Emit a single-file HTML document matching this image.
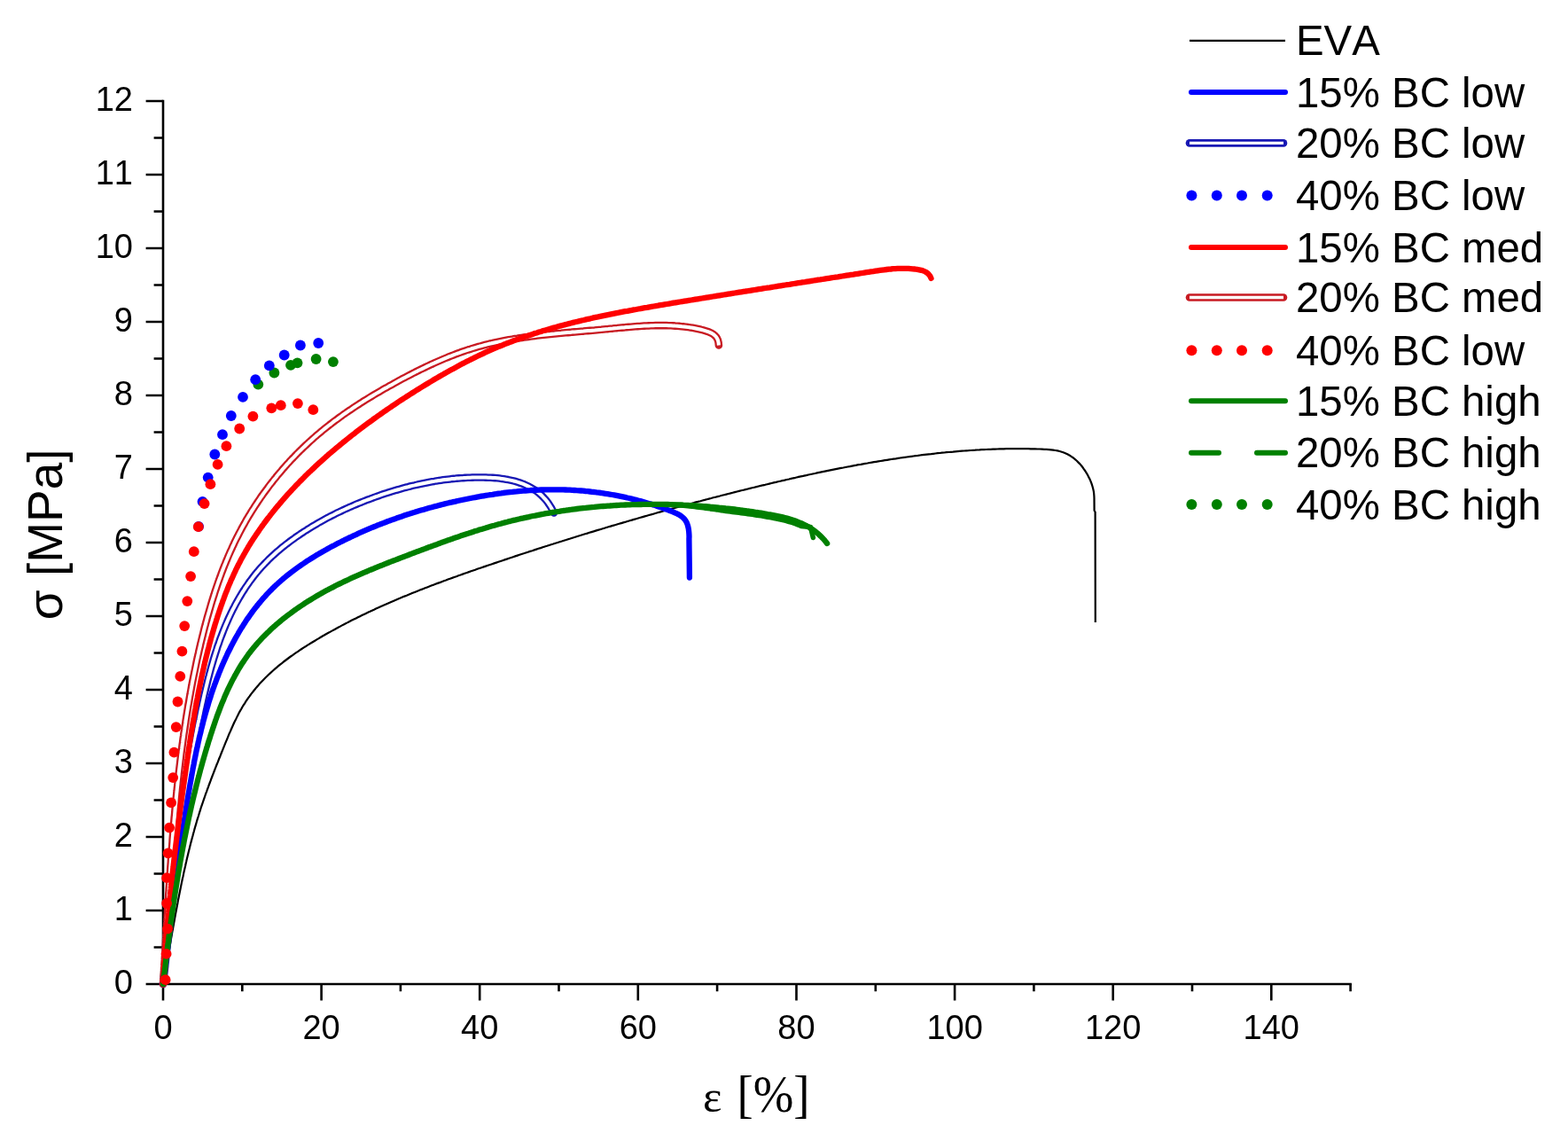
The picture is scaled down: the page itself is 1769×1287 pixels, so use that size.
<!DOCTYPE html><html><head><meta charset="utf-8"><title>Stress-strain</title><style>html,body{margin:0;padding:0;background:#fff;}svg{display:block;}text{font-family:"Liberation Sans",Arial,sans-serif;fill:#000;font-kerning:none;}</style></head><body>
<svg width="1769" height="1287" viewBox="0 0 1769 1287">
<rect width="1769" height="1287" fill="#fff"/>
<path d="M164.6,1110.0H184.0M164.6,1027.0H184.0M164.6,944.0H184.0M164.6,861.0H184.0M164.6,778.0H184.0M164.6,695.0H184.0M164.6,612.0H184.0M164.6,529.0H184.0M164.6,446.0H184.0M164.6,363.0H184.0M164.6,280.0H184.0M164.6,197.0H184.0M164.6,114.0H184.0M173.6,1068.5H184.0M173.6,985.5H184.0M173.6,902.5H184.0M173.6,819.5H184.0M173.6,736.5H184.0M173.6,653.5H184.0M173.6,570.5H184.0M173.6,487.5H184.0M173.6,404.5H184.0M173.6,321.5H184.0M173.6,238.5H184.0M173.6,155.5H184.0M184.0,1110.0V1128.6M362.6,1110.0V1128.6M541.2,1110.0V1128.6M719.8,1110.0V1128.6M898.5,1110.0V1128.6M1077.1,1110.0V1128.6M1255.7,1110.0V1128.6M1434.3,1110.0V1128.6M273.3,1110.0V1118.2M451.9,1110.0V1118.2M630.5,1110.0V1118.2M809.1,1110.0V1118.2M987.8,1110.0V1118.2M1166.4,1110.0V1118.2M1345.0,1110.0V1118.2M1523.6,1110.0V1118.2" fill="none" stroke="#000" stroke-width="2.6" stroke-linecap="butt"/>
<path d="M184.0,112.7V1110.0H1524.9" fill="none" stroke="#000" stroke-width="2.6" stroke-linecap="butt" stroke-linejoin="miter"/>
<path d="M184.0,1110.0L184.4,1107.6L184.9,1105.1L185.3,1102.7L185.8,1100.2L186.2,1097.8L186.6,1095.3L187.1,1092.9L187.5,1090.4L187.9,1088.0L188.4,1085.5L188.8,1083.1L189.2,1080.6L189.7,1078.1L190.1,1075.7L190.5,1073.2L191.0,1070.7L191.4,1068.3L191.8,1065.8L192.3,1063.3L192.7,1060.9L193.1,1058.4L193.6,1055.9L194.0,1053.4L194.4,1050.9L194.9,1048.5L195.3,1046.0L195.8,1043.5L196.2,1041.0L196.7,1038.5L197.1,1036.1L197.6,1033.6L198.0,1031.1L198.5,1028.6L199.0,1026.1L199.4,1023.7L199.9,1021.2L200.4,1018.7L200.8,1016.2L201.3,1013.7L201.8,1011.3L202.3,1008.8L202.8,1006.3L203.3,1003.8L203.8,1001.4L204.3,998.9L204.8,996.4L205.3,994.0L205.8,991.5L206.4,989.0L206.9,986.6L207.4,984.1L208.0,981.6L208.5,979.2L209.1,976.7L209.6,974.3L210.2,971.8L210.7,969.4L211.3,966.9L211.9,964.5L212.5,962.0L213.1,959.6L213.7,957.2L214.3,954.7L214.9,952.3L215.5,949.9L216.2,947.4L216.8,945.0L217.5,942.6L218.1,940.2L218.8,937.8L219.4,935.4L220.1,933.0L220.8,930.6L221.5,928.2L222.2,925.8L222.9,923.4L223.7,921.0L224.4,918.7L225.1,916.3L225.9,913.9L226.6,911.5L227.4,909.2L228.2,906.8L229.0,904.5L229.8,902.1L230.6,899.8L231.4,897.5L232.2,895.1L233.1,892.8L233.9,890.5L234.8,888.1L235.6,885.8L236.5,883.5L237.4,881.2L238.2,878.8L239.1,876.5L240.0,874.2L240.9,871.9L241.8,869.5L242.7,867.2L243.6,864.9L244.5,862.5L245.5,860.2L246.4,857.9L247.3,855.5L248.3,853.2L249.2,850.9L250.1,848.5L251.1,846.1L252.0,843.8L253.0,841.4L253.9,839.1L254.9,836.7L255.9,834.3L256.9,831.9L257.8,829.6L258.8,827.2L259.9,824.9L260.9,822.5L261.9,820.2L263.0,817.8L264.0,815.5L265.1,813.2L266.3,810.9L267.4,808.6L268.5,806.4L269.7,804.1L270.9,801.9L272.2,799.7L273.4,797.5L274.7,795.4L276.1,793.3L277.4,791.2L278.8,789.1L280.2,787.1L281.7,785.1L283.1,783.1L284.7,781.1L286.2,779.2L287.8,777.2L289.3,775.4L291.0,773.5L292.6,771.6L294.3,769.8L296.0,768.0L297.7,766.2L299.4,764.5L301.2,762.8L303.0,761.0L304.8,759.4L306.6,757.7L308.5,756.0L310.3,754.4L312.2,752.8L314.1,751.2L316.0,749.6L318.0,748.1L319.9,746.5L321.9,745.0L323.9,743.5L325.9,742.0L327.9,740.5L330.0,739.1L332.0,737.6L334.1,736.2L336.2,734.8L338.2,733.4L340.3,732.0L342.4,730.6L344.6,729.3L346.7,727.9L348.8,726.6L351.0,725.3L353.1,724.0L355.3,722.7L357.4,721.4L359.6,720.1L361.8,718.8L363.9,717.5L366.1,716.3L368.3,715.0L370.5,713.8L372.7,712.6L374.9,711.4L377.1,710.2L379.3,709.0L381.5,707.8L383.7,706.6L385.9,705.4L388.2,704.2L390.4,703.1L392.6,701.9L394.8,700.8L397.1,699.6L399.3,698.5L401.6,697.4L403.8,696.3L406.1,695.2L408.3,694.1L410.6,693.0L412.8,691.9L415.1,690.8L417.4,689.8L419.6,688.7L421.9,687.7L424.2,686.6L426.5,685.6L428.7,684.5L431.0,683.5L433.3,682.5L435.6,681.5L437.9,680.5L440.2,679.5L442.5,678.5L444.8,677.5L447.1,676.5L449.4,675.5L451.7,674.6L454.0,673.6L456.3,672.6L458.7,671.7L461.0,670.7L463.3,669.8L465.6,668.8L467.9,667.9L470.3,667.0L472.6,666.1L474.9,665.1L477.3,664.2L479.6,663.3L481.9,662.4L484.3,661.5L486.6,660.6L489.0,659.7L491.3,658.8L493.7,657.9L496.0,657.1L498.4,656.2L500.7,655.3L503.1,654.5L505.4,653.6L507.8,652.7L510.1,651.9L512.5,651.0L514.9,650.2L517.2,649.3L519.6,648.5L522.0,647.6L524.3,646.8L526.7,646.0L529.1,645.1L531.4,644.3L533.8,643.5L536.2,642.7L538.5,641.8L540.9,641.0L543.3,640.2L545.7,639.4L548.0,638.6L550.4,637.8L552.8,637.0L555.2,636.2L557.5,635.4L559.9,634.6L562.3,633.8L564.7,633.0L567.0,632.2L569.4,631.4L571.8,630.6L574.2,629.8L576.6,629.0L578.9,628.2L581.3,627.4L583.7,626.6L586.1,625.8L588.5,625.0L590.8,624.3L593.2,623.5L595.6,622.7L598.0,621.9L600.4,621.2L602.8,620.4L605.1,619.6L607.5,618.8L609.9,618.1L612.3,617.3L614.7,616.5L617.1,615.8L619.5,615.0L621.8,614.2L624.2,613.5L626.6,612.7L629.0,612.0L631.4,611.2L633.8,610.5L636.2,609.7L638.6,609.0L641.0,608.2L643.4,607.5L645.8,606.7L648.1,606.0L650.5,605.2L652.9,604.5L655.3,603.8L657.7,603.0L660.1,602.3L662.5,601.6L664.9,600.8L667.3,600.1L669.7,599.4L672.1,598.6L674.5,597.9L676.9,597.2L679.3,596.5L681.7,595.8L684.1,595.0L686.5,594.3L688.9,593.6L691.3,592.9L693.7,592.2L696.1,591.5L698.5,590.8L700.9,590.1L703.3,589.4L705.7,588.7L708.1,588.0L710.5,587.3L712.9,586.6L715.3,585.9L717.7,585.2L720.1,584.5L722.6,583.8L725.0,583.1L727.4,582.4L729.8,581.7L732.2,581.0L734.6,580.4L737.0,579.7L739.4,579.0L741.8,578.3L744.2,577.6L746.7,577.0L749.1,576.3L751.5,575.6L753.9,575.0L756.3,574.3L758.7,573.6L761.2,573.0L763.6,572.3L766.0,571.7L768.4,571.0L770.8,570.3L773.2,569.7L775.7,569.0L778.1,568.4L780.5,567.7L782.9,567.1L785.3,566.4L787.8,565.8L790.2,565.2L792.6,564.5L795.0,563.9L797.5,563.2L799.9,562.6L802.3,562.0L804.7,561.3L807.2,560.7L809.6,560.1L812.0,559.5L814.5,558.8L816.9,558.2L819.3,557.6L821.7,557.0L824.2,556.4L826.6,555.7L829.0,555.1L831.5,554.5L833.9,553.9L836.3,553.3L838.8,552.7L841.2,552.1L843.7,551.5L846.1,550.9L848.5,550.3L851.0,549.7L853.4,549.1L855.8,548.5L858.3,547.9L860.7,547.3L863.2,546.8L865.6,546.2L868.0,545.6L870.5,545.0L872.9,544.4L875.4,543.9L877.8,543.3L880.3,542.7L882.7,542.1L885.2,541.6L887.6,541.0L890.1,540.5L892.5,539.9L895.0,539.3L897.4,538.8L899.9,538.2L902.3,537.7L904.8,537.2L907.2,536.6L909.7,536.1L912.1,535.5L914.6,535.0L917.0,534.5L919.5,534.0L921.9,533.4L924.4,532.9L926.8,532.4L929.3,531.9L931.8,531.4L934.2,530.9L936.7,530.4L939.1,529.9L941.6,529.4L944.1,528.9L946.5,528.4L949.0,527.9L951.4,527.5L953.9,527.0L956.4,526.5L958.8,526.1L961.3,525.6L963.8,525.1L966.2,524.7L968.7,524.2L971.2,523.8L973.6,523.3L976.1,522.9L978.6,522.5L981.0,522.0L983.5,521.6L986.0,521.2L988.4,520.8L990.9,520.4L993.4,520.0L995.9,519.6L998.3,519.2L1000.8,518.8L1003.3,518.4L1005.8,518.0L1008.2,517.6L1010.7,517.3L1013.2,516.9L1015.7,516.5L1018.1,516.2L1020.6,515.8L1023.1,515.5L1025.6,515.2L1028.0,514.8L1030.5,514.5L1033.0,514.2L1035.5,513.9L1038.0,513.5L1040.4,513.2L1042.9,512.9L1045.4,512.6L1047.9,512.3L1050.4,512.1L1052.9,511.8L1055.3,511.5L1057.8,511.2L1060.3,511.0L1062.8,510.7L1065.3,510.5L1067.8,510.2L1070.3,510.0L1072.7,509.8L1075.2,509.6L1077.7,509.3L1080.2,509.1L1082.7,508.9L1085.2,508.7L1087.7,508.5L1090.2,508.3L1092.7,508.2L1095.2,508.0L1097.7,507.8L1100.1,507.7L1102.6,507.5L1105.1,507.4L1107.6,507.2L1110.1,507.1L1112.6,507.0L1115.1,506.9L1117.6,506.8L1120.1,506.7L1122.6,506.6L1125.1,506.5L1127.6,506.4L1130.1,506.3L1132.6,506.3L1135.1,506.2L1137.6,506.2L1140.2,506.2L1142.7,506.1L1145.2,506.1L1147.7,506.1L1150.2,506.1L1152.7,506.1L1155.3,506.1L1157.8,506.2L1160.3,506.2L1162.8,506.3L1165.4,506.3L1167.9,506.4L1170.4,506.5L1173.0,506.5L1175.5,506.6L1178.1,506.8L1180.6,506.9L1183.2,507.1L1185.7,507.3L1188.2,507.6L1190.6,508.0L1193.1,508.4L1195.5,509.0L1197.9,509.7L1200.2,510.5L1202.5,511.4L1204.7,512.5L1206.8,513.7L1208.9,515.1L1211.0,516.5L1212.9,518.1L1214.8,519.8L1216.6,521.6L1218.4,523.4L1220.0,525.3L1221.6,527.3L1223.0,529.4L1224.5,531.5L1225.8,533.6L1227.1,535.8L1228.2,538.1L1229.4,540.3L1230.4,542.6L1231.3,544.9L1232.1,547.3L1232.8,549.7L1233.4,552.1L1233.9,554.5L1234.2,557.0L1234.4,559.5L1234.5,562.0L1234.6,576.0L1235.6,577.5L1235.8,702.0" fill="none" stroke="#000" stroke-width="2.2" stroke-linecap="butt" stroke-linejoin="round"/>
<path d="M184.0,1110.0L184.3,1107.5L184.5,1105.0L184.8,1102.4L185.1,1099.9L185.3,1097.4L185.6,1094.9L185.9,1092.4L186.2,1089.9L186.4,1087.4L186.7,1084.9L187.0,1082.3L187.2,1079.8L187.5,1077.3L187.8,1074.8L188.0,1072.3L188.3,1069.8L188.6,1067.3L188.8,1064.8L189.1,1062.3L189.4,1059.8L189.6,1057.3L189.9,1054.8L190.2,1052.3L190.5,1049.8L190.7,1047.3L191.0,1044.8L191.3,1042.3L191.5,1039.8L191.8,1037.3L192.1,1034.8L192.3,1032.3L192.6,1029.8L192.9,1027.3L193.2,1024.8L193.4,1022.3L193.7,1019.9L194.0,1017.4L194.3,1014.9L194.5,1012.4L194.8,1009.9L195.1,1007.4L195.4,1004.9L195.7,1002.4L196.0,999.9L196.2,997.5L196.5,995.0L196.8,992.5L197.1,990.0L197.4,987.5L197.7,985.0L198.0,982.5L198.3,980.1L198.6,977.6L198.9,975.1L199.2,972.6L199.5,970.1L199.8,967.7L200.1,965.2L200.4,962.7L200.7,960.2L201.0,957.7L201.3,955.2L201.6,952.8L202.0,950.3L202.3,947.8L202.6,945.3L202.9,942.9L203.3,940.4L203.6,937.9L203.9,935.4L204.2,932.9L204.6,930.5L204.9,928.0L205.3,925.5L205.6,923.0L206.0,920.6L206.3,918.1L206.7,915.6L207.0,913.1L207.4,910.7L207.7,908.2L208.1,905.7L208.5,903.2L208.8,900.8L209.2,898.3L209.6,895.8L209.9,893.3L210.3,890.8L210.7,888.4L211.1,885.9L211.5,883.4L211.9,880.9L212.3,878.5L212.7,876.0L213.1,873.5L213.5,871.0L213.9,868.6L214.3,866.1L214.7,863.6L215.2,861.1L215.6,858.7L216.0,856.2L216.4,853.7L216.9,851.2L217.3,848.8L217.8,846.3L218.2,843.8L218.7,841.3L219.1,838.9L219.6,836.4L220.1,833.9L220.5,831.4L221.0,829.0L221.5,826.5L222.0,824.0L222.5,821.5L222.9,819.0L223.4,816.6L223.9,814.1L224.5,811.6L225.0,809.1L225.5,806.7L226.0,804.2L226.5,801.7L227.0,799.2L227.6,796.7L228.1,794.3L228.7,791.8L229.2,789.3L229.8,786.8L230.3,784.3L230.9,781.9L231.5,779.4L232.1,776.9L232.7,774.4L233.3,772.0L233.9,769.5L234.5,767.0L235.1,764.6L235.8,762.1L236.4,759.7L237.1,757.2L237.7,754.8L238.4,752.3L239.1,749.9L239.8,747.5L240.5,745.0L241.2,742.6L242.0,740.2L242.7,737.8L243.5,735.4L244.3,733.0L245.0,730.6L245.8,728.2L246.7,725.9L247.5,723.5L248.3,721.1L249.2,718.8L250.1,716.4L251.0,714.1L251.9,711.8L252.8,709.5L253.7,707.2L254.7,704.9L255.7,702.6L256.7,700.3L257.7,698.0L258.7,695.8L259.8,693.5L260.8,691.3L261.9,689.1L263.0,686.9L264.2,684.7L265.3,682.5L266.5,680.3L267.7,678.2L268.9,676.0L270.1,673.9L271.4,671.8L272.6,669.7L273.9,667.6L275.3,665.5L276.6,663.4L278.0,661.4L279.4,659.4L280.8,657.3L282.2,655.3L283.7,653.4L285.2,651.4L286.7,649.4L288.2,647.5L289.8,645.6L291.4,643.7L293.0,641.8L294.7,639.9L296.4,638.1L298.1,636.3L299.8,634.5L301.6,632.7L303.3,630.9L305.2,629.1L307.0,627.4L308.9,625.7L310.8,624.0L312.7,622.3L314.6,620.7L316.6,619.0L318.5,617.4L320.5,615.8L322.6,614.2L324.6,612.7L326.6,611.1L328.7,609.6L330.8,608.1L332.8,606.6L334.9,605.1L337.1,603.7L339.2,602.2L341.3,600.8L343.4,599.4L345.6,598.1L347.7,596.7L349.9,595.4L352.0,594.0L354.2,592.7L356.4,591.5L358.5,590.2L360.7,588.9L362.9,587.7L365.1,586.5L367.3,585.3L369.5,584.1L371.7,582.9L373.9,581.8L376.2,580.7L378.4,579.5L380.6,578.4L382.9,577.4L385.1,576.3L387.4,575.2L389.6,574.2L391.9,573.2L394.2,572.1L396.5,571.2L398.7,570.2L401.0,569.2L403.3,568.2L405.6,567.3L408.0,566.4L410.3,565.4L412.6,564.5L414.9,563.6L417.3,562.8L419.6,561.9L422.0,561.0L424.3,560.2L426.7,559.4L429.0,558.5L431.4,557.7L433.8,556.9L436.2,556.2L438.6,555.4L441.0,554.6L443.4,553.9L445.8,553.2L448.2,552.5L450.6,551.8L453.0,551.1L455.4,550.4L457.9,549.8L460.3,549.2L462.8,548.5L465.2,547.9L467.7,547.4L470.1,546.8L472.6,546.2L475.0,545.7L477.5,545.2L480.0,544.7L482.5,544.2L484.9,543.7L487.4,543.3L489.9,542.9L492.4,542.4L494.9,542.1L497.4,541.7L499.9,541.3L502.4,541.0L505.0,540.7L507.5,540.4L510.0,540.1L512.5,539.9L515.1,539.6L517.6,539.4L520.1,539.2L522.7,539.1L525.2,538.9L527.7,538.8L530.3,538.7L532.8,538.6L535.4,538.5L538.0,538.5L540.5,538.5L543.1,538.5L545.6,538.5L548.2,538.6L550.8,538.7L553.3,538.8L555.8,538.9L558.4,539.1L560.9,539.3L563.4,539.6L565.9,539.9L568.4,540.3L570.9,540.7L573.3,541.1L575.7,541.6L578.1,542.1L580.5,542.7L582.8,543.4L585.2,544.1L587.4,544.9L589.7,545.7L591.9,546.6L594.1,547.6L596.2,548.6L598.3,549.7L600.4,550.9L602.4,552.1L604.4,553.4L606.3,554.8L608.1,556.3L610.0,557.9L611.7,559.5L613.4,561.3L615.1,563.1L616.7,565.0L618.2,567.0L619.6,569.1L621.0,571.3L622.4,573.6L623.6,576.0L624.8,578.5" fill="none" stroke="#1818b4" stroke-width="8.6" stroke-linecap="round" stroke-linejoin="round"/>
<path d="M184.0,1110.0L184.3,1107.5L184.5,1105.0L184.8,1102.4L185.1,1099.9L185.3,1097.4L185.6,1094.9L185.9,1092.4L186.2,1089.9L186.4,1087.4L186.7,1084.9L187.0,1082.3L187.2,1079.8L187.5,1077.3L187.8,1074.8L188.0,1072.3L188.3,1069.8L188.6,1067.3L188.8,1064.8L189.1,1062.3L189.4,1059.8L189.6,1057.3L189.9,1054.8L190.2,1052.3L190.5,1049.8L190.7,1047.3L191.0,1044.8L191.3,1042.3L191.5,1039.8L191.8,1037.3L192.1,1034.8L192.3,1032.3L192.6,1029.8L192.9,1027.3L193.2,1024.8L193.4,1022.3L193.7,1019.9L194.0,1017.4L194.3,1014.9L194.5,1012.4L194.8,1009.9L195.1,1007.4L195.4,1004.9L195.7,1002.4L196.0,999.9L196.2,997.5L196.5,995.0L196.8,992.5L197.1,990.0L197.4,987.5L197.7,985.0L198.0,982.5L198.3,980.1L198.6,977.6L198.9,975.1L199.2,972.6L199.5,970.1L199.8,967.7L200.1,965.2L200.4,962.7L200.7,960.2L201.0,957.7L201.3,955.2L201.6,952.8L202.0,950.3L202.3,947.8L202.6,945.3L202.9,942.9L203.3,940.4L203.6,937.9L203.9,935.4L204.2,932.9L204.6,930.5L204.9,928.0L205.3,925.5L205.6,923.0L206.0,920.6L206.3,918.1L206.7,915.6L207.0,913.1L207.4,910.7L207.7,908.2L208.1,905.7L208.5,903.2L208.8,900.8L209.2,898.3L209.6,895.8L209.9,893.3L210.3,890.8L210.7,888.4L211.1,885.9L211.5,883.4L211.9,880.9L212.3,878.5L212.7,876.0L213.1,873.5L213.5,871.0L213.9,868.6L214.3,866.1L214.7,863.6L215.2,861.1L215.6,858.7L216.0,856.2L216.4,853.7L216.9,851.2L217.3,848.8L217.8,846.3L218.2,843.8L218.7,841.3L219.1,838.9L219.6,836.4L220.1,833.9L220.5,831.4L221.0,829.0L221.5,826.5L222.0,824.0L222.5,821.5L222.9,819.0L223.4,816.6L223.9,814.1L224.5,811.6L225.0,809.1L225.5,806.7L226.0,804.2L226.5,801.7L227.0,799.2L227.6,796.7L228.1,794.3L228.7,791.8L229.2,789.3L229.8,786.8L230.3,784.3L230.9,781.9L231.5,779.4L232.1,776.9L232.7,774.4L233.3,772.0L233.9,769.5L234.5,767.0L235.1,764.6L235.8,762.1L236.4,759.7L237.1,757.2L237.7,754.8L238.4,752.3L239.1,749.9L239.8,747.5L240.5,745.0L241.2,742.6L242.0,740.2L242.7,737.8L243.5,735.4L244.3,733.0L245.0,730.6L245.8,728.2L246.7,725.9L247.5,723.5L248.3,721.1L249.2,718.8L250.1,716.4L251.0,714.1L251.9,711.8L252.8,709.5L253.7,707.2L254.7,704.9L255.7,702.6L256.7,700.3L257.7,698.0L258.7,695.8L259.8,693.5L260.8,691.3L261.9,689.1L263.0,686.9L264.2,684.7L265.3,682.5L266.5,680.3L267.7,678.2L268.9,676.0L270.1,673.9L271.4,671.8L272.6,669.7L273.9,667.6L275.3,665.5L276.6,663.4L278.0,661.4L279.4,659.4L280.8,657.3L282.2,655.3L283.7,653.4L285.2,651.4L286.7,649.4L288.2,647.5L289.8,645.6L291.4,643.7L293.0,641.8L294.7,639.9L296.4,638.1L298.1,636.3L299.8,634.5L301.6,632.7L303.3,630.9L305.2,629.1L307.0,627.4L308.9,625.7L310.8,624.0L312.7,622.3L314.6,620.7L316.6,619.0L318.5,617.4L320.5,615.8L322.6,614.2L324.6,612.7L326.6,611.1L328.7,609.6L330.8,608.1L332.8,606.6L334.9,605.1L337.1,603.7L339.2,602.2L341.3,600.8L343.4,599.4L345.6,598.1L347.7,596.7L349.9,595.4L352.0,594.0L354.2,592.7L356.4,591.5L358.5,590.2L360.7,588.9L362.9,587.7L365.1,586.5L367.3,585.3L369.5,584.1L371.7,582.9L373.9,581.8L376.2,580.7L378.4,579.5L380.6,578.4L382.9,577.4L385.1,576.3L387.4,575.2L389.6,574.2L391.9,573.2L394.2,572.1L396.5,571.2L398.7,570.2L401.0,569.2L403.3,568.2L405.6,567.3L408.0,566.4L410.3,565.4L412.6,564.5L414.9,563.6L417.3,562.8L419.6,561.9L422.0,561.0L424.3,560.2L426.7,559.4L429.0,558.5L431.4,557.7L433.8,556.9L436.2,556.2L438.6,555.4L441.0,554.6L443.4,553.9L445.8,553.2L448.2,552.5L450.6,551.8L453.0,551.1L455.4,550.4L457.9,549.8L460.3,549.2L462.8,548.5L465.2,547.9L467.7,547.4L470.1,546.8L472.6,546.2L475.0,545.7L477.5,545.2L480.0,544.7L482.5,544.2L484.9,543.7L487.4,543.3L489.9,542.9L492.4,542.4L494.9,542.1L497.4,541.7L499.9,541.3L502.4,541.0L505.0,540.7L507.5,540.4L510.0,540.1L512.5,539.9L515.1,539.6L517.6,539.4L520.1,539.2L522.7,539.1L525.2,538.9L527.7,538.8L530.3,538.7L532.8,538.6L535.4,538.5L538.0,538.5L540.5,538.5L543.1,538.5L545.6,538.5L548.2,538.6L550.8,538.7L553.3,538.8L555.8,538.9L558.4,539.1L560.9,539.3L563.4,539.6L565.9,539.9L568.4,540.3L570.9,540.7L573.3,541.1L575.7,541.6L578.1,542.1L580.5,542.7L582.8,543.4L585.2,544.1L587.4,544.9L589.7,545.7L591.9,546.6L594.1,547.6L596.2,548.6L598.3,549.7L600.4,550.9L602.4,552.1L604.4,553.4L606.3,554.8L608.1,556.3L610.0,557.9L611.7,559.5L613.4,561.3L615.1,563.1L616.7,565.0L618.2,567.0L619.6,569.1L621.0,571.3L622.4,573.6L623.6,576.0L624.8,578.5" fill="none" stroke="#fff" stroke-width="4.0" stroke-linecap="butt" stroke-linejoin="round"/>
<path d="M184.0,1110.0L184.2,1107.5L184.3,1105.0L184.5,1102.5L184.6,1100.0L184.8,1097.5L185.0,1095.0L185.1,1092.5L185.3,1090.0L185.4,1087.5L185.6,1085.0L185.8,1082.5L185.9,1080.0L186.1,1077.5L186.2,1075.0L186.4,1072.5L186.5,1070.0L186.7,1067.5L186.8,1065.0L187.0,1062.5L187.1,1060.0L187.3,1057.5L187.4,1055.0L187.6,1052.5L187.7,1050.0L187.9,1047.5L188.1,1045.0L188.2,1042.5L188.4,1040.0L188.5,1037.5L188.7,1035.0L188.8,1032.4L189.0,1029.9L189.1,1027.4L189.3,1024.9L189.4,1022.4L189.6,1019.9L189.8,1017.4L189.9,1014.9L190.1,1012.4L190.2,1009.9L190.4,1007.4L190.6,1004.9L190.7,1002.4L190.9,999.9L191.1,997.4L191.2,994.9L191.4,992.4L191.6,989.9L191.7,987.3L191.9,984.8L192.1,982.3L192.2,979.8L192.4,977.3L192.6,974.8L192.8,972.3L192.9,969.8L193.1,967.3L193.3,964.8L193.5,962.3L193.7,959.8L193.9,957.3L194.1,954.8L194.3,952.3L194.5,949.8L194.6,947.3L194.8,944.8L195.0,942.3L195.3,939.8L195.5,937.3L195.7,934.8L195.9,932.3L196.1,929.8L196.3,927.3L196.5,924.8L196.7,922.3L197.0,919.8L197.2,917.3L197.4,914.8L197.6,912.3L197.9,909.8L198.1,907.3L198.4,904.8L198.6,902.3L198.8,899.8L199.1,897.3L199.3,894.8L199.6,892.3L199.8,889.8L200.1,887.3L200.4,884.8L200.6,882.3L200.9,879.8L201.2,877.3L201.5,874.8L201.7,872.3L202.0,869.9L202.3,867.4L202.6,864.9L202.9,862.4L203.2,859.9L203.5,857.4L203.8,854.9L204.1,852.4L204.4,850.0L204.7,847.5L205.1,845.0L205.4,842.5L205.7,840.0L206.1,837.5L206.4,835.0L206.7,832.6L207.1,830.1L207.4,827.6L207.8,825.1L208.2,822.6L208.5,820.2L208.9,817.7L209.3,815.2L209.6,812.7L210.0,810.3L210.4,807.8L210.8,805.3L211.2,802.8L211.6,800.4L212.0,797.9L212.4,795.4L212.9,793.0L213.3,790.5L213.7,788.0L214.1,785.6L214.6,783.1L215.0,780.6L215.5,778.2L215.9,775.7L216.4,773.2L216.8,770.8L217.3,768.3L217.8,765.9L218.3,763.4L218.8,760.9L219.3,758.5L219.8,756.0L220.3,753.6L220.8,751.1L221.3,748.7L221.8,746.2L222.3,743.8L222.9,741.3L223.4,738.9L224.0,736.4L224.5,734.0L225.1,731.5L225.7,729.1L226.2,726.6L226.8,724.2L227.4,721.8L228.0,719.3L228.6,716.9L229.2,714.4L229.8,712.0L230.4,709.6L231.0,707.1L231.7,704.7L232.3,702.3L233.0,699.9L233.6,697.4L234.3,695.0L235.0,692.6L235.7,690.2L236.4,687.8L237.1,685.4L237.8,682.9L238.5,680.5L239.2,678.1L240.0,675.7L240.7,673.3L241.5,671.0L242.2,668.6L243.0,666.2L243.8,663.8L244.6,661.4L245.4,659.1L246.2,656.7L247.1,654.3L247.9,652.0L248.8,649.6L249.6,647.3L250.5,644.9L251.4,642.6L252.3,640.3L253.2,637.9L254.2,635.6L255.1,633.3L256.1,631.0L257.0,628.7L258.0,626.4L259.0,624.1L260.0,621.8L261.1,619.5L262.1,617.2L263.2,615.0L264.2,612.7L265.3,610.4L266.4,608.2L267.5,606.0L268.7,603.7L269.8,601.5L271.0,599.3L272.1,597.1L273.3,594.9L274.5,592.7L275.8,590.5L277.0,588.3L278.2,586.1L279.5,584.0L280.8,581.8L282.1,579.7L283.4,577.5L284.7,575.4L286.1,573.3L287.4,571.2L288.8,569.1L290.2,567.0L291.6,564.9L293.0,562.8L294.4,560.7L295.9,558.7L297.3,556.6L298.8,554.6L300.3,552.6L301.8,550.6L303.3,548.5L304.8,546.5L306.4,544.6L307.9,542.6L309.5,540.6L311.1,538.7L312.6,536.7L314.2,534.8L315.9,532.9L317.5,531.0L319.1,529.0L320.8,527.2L322.4,525.3L324.1,523.4L325.8,521.6L327.5,519.7L329.2,517.9L331.0,516.1L332.7,514.3L334.4,512.5L336.2,510.7L338.0,508.9L339.8,507.2L341.6,505.4L343.4,503.7L345.2,502.0L347.0,500.3L348.8,498.6L350.7,496.9L352.6,495.2L354.4,493.6L356.3,491.9L358.2,490.3L360.1,488.7L362.0,487.1L363.9,485.5L365.9,483.9L367.8,482.4L369.8,480.8L371.7,479.3L373.7,477.8L375.7,476.2L377.7,474.7L379.7,473.3L381.7,471.8L383.7,470.3L385.7,468.9L387.7,467.4L389.8,466.0L391.8,464.6L393.9,463.2L396.0,461.8L398.0,460.4L400.1,459.0L402.2,457.6L404.3,456.3L406.4,454.9L408.5,453.6L410.6,452.2L412.8,450.9L414.9,449.6L417.0,448.3L419.2,447.0L421.3,445.7L423.5,444.4L425.7,443.1L427.8,441.9L430.0,440.6L432.2,439.3L434.4,438.1L436.6,436.9L438.8,435.6L441.0,434.4L443.2,433.2L445.4,431.9L447.6,430.7L449.8,429.5L452.1,428.3L454.3,427.1L456.5,425.9L458.8,424.7L461.0,423.6L463.3,422.4L465.5,421.2L467.8,420.1L470.1,418.9L472.3,417.8L474.6,416.7L476.9,415.6L479.2,414.5L481.5,413.4L483.8,412.3L486.1,411.2L488.4,410.2L490.7,409.1L493.0,408.1L495.3,407.1L497.6,406.1L499.9,405.1L502.3,404.1L504.6,403.2L506.9,402.2L509.3,401.3L511.6,400.4L513.9,399.5L516.3,398.6L518.6,397.8L521.0,396.9L523.4,396.1L525.7,395.3L528.1,394.5L530.5,393.8L532.9,393.0L535.2,392.3L537.6,391.6L540.0,390.9L542.4,390.3L544.8,389.6L547.2,389.0L549.6,388.4L552.0,387.8L554.4,387.3L556.8,386.7L559.2,386.2L561.7,385.7L564.1,385.2L566.5,384.7L568.9,384.2L571.4,383.7L573.8,383.3L576.3,382.9L578.7,382.5L581.1,382.0L583.6,381.7L586.0,381.3L588.5,380.9L591.0,380.5L593.4,380.2L595.9,379.9L598.3,379.5L600.8,379.2L603.3,378.9L605.8,378.6L608.2,378.3L610.7,378.0L613.2,377.8L615.7,377.5L618.2,377.2L620.7,377.0L623.1,376.7L625.6,376.5L628.1,376.2L630.6,376.0L633.1,375.8L635.6,375.5L638.1,375.3L640.7,375.1L643.2,374.9L645.7,374.6L648.2,374.4L650.7,374.2L653.2,374.0L655.7,373.8L658.3,373.6L660.8,373.3L663.3,373.1L665.9,372.9L668.4,372.7L670.9,372.5L673.5,372.2L676.0,372.0L678.5,371.8L681.1,371.5L683.6,371.3L686.1,371.1L688.7,370.8L691.2,370.6L693.8,370.3L696.3,370.1L698.9,369.8L701.4,369.6L704.0,369.4L706.5,369.1L709.0,368.9L711.6,368.7L714.1,368.5L716.7,368.3L719.2,368.1L721.7,368.0L724.3,367.8L726.8,367.6L729.3,367.5L731.9,367.4L734.4,367.3L736.9,367.2L739.4,367.1L741.9,367.1L744.4,367.1L746.9,367.1L749.4,367.1L751.9,367.1L754.4,367.2L756.9,367.3L759.4,367.4L761.8,367.6L764.3,367.7L766.8,367.9L769.2,368.2L771.7,368.4L774.1,368.7L776.5,369.1L778.9,369.4L781.4,369.8L783.8,370.3L786.2,370.8L788.6,371.3L790.9,371.8L793.3,372.4L795.7,373.1L798.0,373.8L800.2,374.6L802.3,375.6L804.3,376.7L806.1,378.1L807.7,379.7L809.0,381.7L810.0,383.9L810.6,386.5L810.9,389.5" fill="none" stroke="#c81a22" stroke-width="8.6" stroke-linecap="round" stroke-linejoin="round"/>
<path d="M184.0,1110.0L184.2,1107.5L184.3,1105.0L184.5,1102.5L184.6,1100.0L184.8,1097.5L185.0,1095.0L185.1,1092.5L185.3,1090.0L185.4,1087.5L185.6,1085.0L185.8,1082.5L185.9,1080.0L186.1,1077.5L186.2,1075.0L186.4,1072.5L186.5,1070.0L186.7,1067.5L186.8,1065.0L187.0,1062.5L187.1,1060.0L187.3,1057.5L187.4,1055.0L187.6,1052.5L187.7,1050.0L187.9,1047.5L188.1,1045.0L188.2,1042.5L188.4,1040.0L188.5,1037.5L188.7,1035.0L188.8,1032.4L189.0,1029.9L189.1,1027.4L189.3,1024.9L189.4,1022.4L189.6,1019.9L189.8,1017.4L189.9,1014.9L190.1,1012.4L190.2,1009.9L190.4,1007.4L190.6,1004.9L190.7,1002.4L190.9,999.9L191.1,997.4L191.2,994.9L191.4,992.4L191.6,989.9L191.7,987.3L191.9,984.8L192.1,982.3L192.2,979.8L192.4,977.3L192.6,974.8L192.8,972.3L192.9,969.8L193.1,967.3L193.3,964.8L193.5,962.3L193.7,959.8L193.9,957.3L194.1,954.8L194.3,952.3L194.5,949.8L194.6,947.3L194.8,944.8L195.0,942.3L195.3,939.8L195.5,937.3L195.7,934.8L195.9,932.3L196.1,929.8L196.3,927.3L196.5,924.8L196.7,922.3L197.0,919.8L197.2,917.3L197.4,914.8L197.6,912.3L197.9,909.8L198.1,907.3L198.4,904.8L198.6,902.3L198.8,899.8L199.1,897.3L199.3,894.8L199.6,892.3L199.8,889.8L200.1,887.3L200.4,884.8L200.6,882.3L200.9,879.8L201.2,877.3L201.5,874.8L201.7,872.3L202.0,869.9L202.3,867.4L202.6,864.9L202.9,862.4L203.2,859.9L203.5,857.4L203.8,854.9L204.1,852.4L204.4,850.0L204.7,847.5L205.1,845.0L205.4,842.5L205.7,840.0L206.1,837.5L206.4,835.0L206.7,832.6L207.1,830.1L207.4,827.6L207.8,825.1L208.2,822.6L208.5,820.2L208.9,817.7L209.3,815.2L209.6,812.7L210.0,810.3L210.4,807.8L210.8,805.3L211.2,802.8L211.6,800.4L212.0,797.9L212.4,795.4L212.9,793.0L213.3,790.5L213.7,788.0L214.1,785.6L214.6,783.1L215.0,780.6L215.5,778.2L215.9,775.7L216.4,773.2L216.8,770.8L217.3,768.3L217.8,765.9L218.3,763.4L218.8,760.9L219.3,758.5L219.8,756.0L220.3,753.6L220.8,751.1L221.3,748.7L221.8,746.2L222.3,743.8L222.9,741.3L223.4,738.9L224.0,736.4L224.5,734.0L225.1,731.5L225.7,729.1L226.2,726.6L226.8,724.2L227.4,721.8L228.0,719.3L228.6,716.9L229.2,714.4L229.8,712.0L230.4,709.6L231.0,707.1L231.7,704.7L232.3,702.3L233.0,699.9L233.6,697.4L234.3,695.0L235.0,692.6L235.7,690.2L236.4,687.8L237.1,685.4L237.8,682.9L238.5,680.5L239.2,678.1L240.0,675.7L240.7,673.3L241.5,671.0L242.2,668.6L243.0,666.2L243.8,663.8L244.6,661.4L245.4,659.1L246.2,656.7L247.1,654.3L247.9,652.0L248.8,649.6L249.6,647.3L250.5,644.9L251.4,642.6L252.3,640.3L253.2,637.9L254.2,635.6L255.1,633.3L256.1,631.0L257.0,628.7L258.0,626.4L259.0,624.1L260.0,621.8L261.1,619.5L262.1,617.2L263.2,615.0L264.2,612.7L265.3,610.4L266.4,608.2L267.5,606.0L268.7,603.7L269.8,601.5L271.0,599.3L272.1,597.1L273.3,594.9L274.5,592.7L275.8,590.5L277.0,588.3L278.2,586.1L279.5,584.0L280.8,581.8L282.1,579.7L283.4,577.5L284.7,575.4L286.1,573.3L287.4,571.2L288.8,569.1L290.2,567.0L291.6,564.9L293.0,562.8L294.4,560.7L295.9,558.7L297.3,556.6L298.8,554.6L300.3,552.6L301.8,550.6L303.3,548.5L304.8,546.5L306.4,544.6L307.9,542.6L309.5,540.6L311.1,538.7L312.6,536.7L314.2,534.8L315.9,532.9L317.5,531.0L319.1,529.0L320.8,527.2L322.4,525.3L324.1,523.4L325.8,521.6L327.5,519.7L329.2,517.9L331.0,516.1L332.7,514.3L334.4,512.5L336.2,510.7L338.0,508.9L339.8,507.2L341.6,505.4L343.4,503.7L345.2,502.0L347.0,500.3L348.8,498.6L350.7,496.9L352.6,495.2L354.4,493.6L356.3,491.9L358.2,490.3L360.1,488.7L362.0,487.1L363.9,485.5L365.9,483.9L367.8,482.4L369.8,480.8L371.7,479.3L373.7,477.8L375.7,476.2L377.7,474.7L379.7,473.3L381.7,471.8L383.7,470.3L385.7,468.9L387.7,467.4L389.8,466.0L391.8,464.6L393.9,463.2L396.0,461.8L398.0,460.4L400.1,459.0L402.2,457.6L404.3,456.3L406.4,454.9L408.5,453.6L410.6,452.2L412.8,450.9L414.9,449.6L417.0,448.3L419.2,447.0L421.3,445.7L423.5,444.4L425.7,443.1L427.8,441.9L430.0,440.6L432.2,439.3L434.4,438.1L436.6,436.9L438.8,435.6L441.0,434.4L443.2,433.2L445.4,431.9L447.6,430.7L449.8,429.5L452.1,428.3L454.3,427.1L456.5,425.9L458.8,424.7L461.0,423.6L463.3,422.4L465.5,421.2L467.8,420.1L470.1,418.9L472.3,417.8L474.6,416.7L476.9,415.6L479.2,414.5L481.5,413.4L483.8,412.3L486.1,411.2L488.4,410.2L490.7,409.1L493.0,408.1L495.3,407.1L497.6,406.1L499.9,405.1L502.3,404.1L504.6,403.2L506.9,402.2L509.3,401.3L511.6,400.4L513.9,399.5L516.3,398.6L518.6,397.8L521.0,396.9L523.4,396.1L525.7,395.3L528.1,394.5L530.5,393.8L532.9,393.0L535.2,392.3L537.6,391.6L540.0,390.9L542.4,390.3L544.8,389.6L547.2,389.0L549.6,388.4L552.0,387.8L554.4,387.3L556.8,386.7L559.2,386.2L561.7,385.7L564.1,385.2L566.5,384.7L568.9,384.2L571.4,383.7L573.8,383.3L576.3,382.9L578.7,382.5L581.1,382.0L583.6,381.7L586.0,381.3L588.5,380.9L591.0,380.5L593.4,380.2L595.9,379.9L598.3,379.5L600.8,379.2L603.3,378.9L605.8,378.6L608.2,378.3L610.7,378.0L613.2,377.8L615.7,377.5L618.2,377.2L620.7,377.0L623.1,376.7L625.6,376.5L628.1,376.2L630.6,376.0L633.1,375.8L635.6,375.5L638.1,375.3L640.7,375.1L643.2,374.9L645.7,374.6L648.2,374.4L650.7,374.2L653.2,374.0L655.7,373.8L658.3,373.6L660.8,373.3L663.3,373.1L665.9,372.9L668.4,372.7L670.9,372.5L673.5,372.2L676.0,372.0L678.5,371.8L681.1,371.5L683.6,371.3L686.1,371.1L688.7,370.8L691.2,370.6L693.8,370.3L696.3,370.1L698.9,369.8L701.4,369.6L704.0,369.4L706.5,369.1L709.0,368.9L711.6,368.7L714.1,368.5L716.7,368.3L719.2,368.1L721.7,368.0L724.3,367.8L726.8,367.6L729.3,367.5L731.9,367.4L734.4,367.3L736.9,367.2L739.4,367.1L741.9,367.1L744.4,367.1L746.9,367.1L749.4,367.1L751.9,367.1L754.4,367.2L756.9,367.3L759.4,367.4L761.8,367.6L764.3,367.7L766.8,367.9L769.2,368.2L771.7,368.4L774.1,368.7L776.5,369.1L778.9,369.4L781.4,369.8L783.8,370.3L786.2,370.8L788.6,371.3L790.9,371.8L793.3,372.4L795.7,373.1L798.0,373.8L800.2,374.6L802.3,375.6L804.3,376.7L806.1,378.1L807.7,379.7L809.0,381.7L810.0,383.9L810.6,386.5L810.9,389.5" fill="none" stroke="#fff" stroke-width="4.0" stroke-linecap="butt" stroke-linejoin="round"/>
<path d="M184.0,1110.0L184.3,1107.5L184.5,1105.0L184.8,1102.5L185.0,1100.0L185.3,1097.5L185.5,1095.0L185.8,1092.5L186.1,1090.0L186.3,1087.6L186.6,1085.1L186.9,1082.6L187.1,1080.1L187.4,1077.6L187.7,1075.1L188.0,1072.6L188.3,1070.1L188.5,1067.6L188.8,1065.1L189.1,1062.6L189.4,1060.1L189.7,1057.6L190.0,1055.2L190.3,1052.7L190.6,1050.2L190.9,1047.7L191.2,1045.2L191.5,1042.7L191.8,1040.2L192.1,1037.7L192.4,1035.2L192.7,1032.7L193.0,1030.2L193.3,1027.8L193.7,1025.3L194.0,1022.8L194.3,1020.3L194.6,1017.8L194.9,1015.3L195.3,1012.8L195.6,1010.3L195.9,1007.9L196.3,1005.4L196.6,1002.9L196.9,1000.4L197.3,997.9L197.6,995.4L197.9,992.9L198.3,990.5L198.6,988.0L199.0,985.5L199.3,983.0L199.7,980.5L200.0,978.0L200.4,975.5L200.7,973.1L201.1,970.6L201.4,968.1L201.8,965.6L202.2,963.1L202.5,960.6L202.9,958.2L203.3,955.7L203.6,953.2L204.0,950.7L204.4,948.2L204.7,945.8L205.1,943.3L205.5,940.8L205.9,938.3L206.2,935.8L206.6,933.4L207.0,930.9L207.4,928.4L207.8,925.9L208.2,923.4L208.6,921.0L208.9,918.5L209.3,916.0L209.7,913.5L210.1,911.1L210.5,908.6L210.9,906.1L211.3,903.6L211.7,901.1L212.1,898.7L212.5,896.2L213.0,893.7L213.4,891.2L213.8,888.8L214.2,886.3L214.6,883.8L215.1,881.4L215.5,878.9L215.9,876.4L216.4,874.0L216.8,871.5L217.3,869.0L217.7,866.6L218.2,864.1L218.7,861.6L219.1,859.2L219.6,856.7L220.1,854.3L220.6,851.8L221.1,849.4L221.6,846.9L222.1,844.5L222.7,842.0L223.2,839.6L223.7,837.1L224.3,834.7L224.8,832.2L225.4,829.8L226.0,827.4L226.6,824.9L227.1,822.5L227.8,820.1L228.4,817.7L229.0,815.2L229.6,812.8L230.3,810.4L230.9,808.0L231.6,805.6L232.3,803.2L233.0,800.8L233.7,798.4L234.4,796.0L235.1,793.6L235.8,791.2L236.6,788.8L237.4,786.4L238.1,784.0L238.9,781.6L239.7,779.2L240.5,776.9L241.4,774.5L242.2,772.1L243.1,769.8L244.0,767.4L244.8,765.1L245.8,762.7L246.7,760.4L247.6,758.0L248.6,755.7L249.5,753.4L250.5,751.0L251.5,748.7L252.5,746.4L253.6,744.1L254.6,741.8L255.7,739.5L256.7,737.2L257.8,735.0L259.0,732.7L260.1,730.5L261.2,728.2L262.4,726.0L263.6,723.8L264.8,721.5L266.0,719.3L267.2,717.2L268.5,715.0L269.7,712.8L271.0,710.7L272.3,708.5L273.7,706.4L275.0,704.3L276.4,702.2L277.7,700.1L279.1,698.0L280.6,696.0L282.0,693.9L283.5,691.9L284.9,689.9L286.4,687.9L287.9,685.9L289.5,684.0L291.0,682.0L292.6,680.1L294.2,678.2L295.8,676.3L297.4,674.4L299.1,672.6L300.8,670.7L302.5,668.9L304.2,667.1L305.9,665.4L307.7,663.6L309.4,661.9L311.2,660.2L313.1,658.5L314.9,656.8L316.8,655.2L318.7,653.5L320.6,651.9L322.5,650.3L324.4,648.8L326.4,647.2L328.3,645.7L330.3,644.2L332.3,642.7L334.3,641.2L336.4,639.7L338.4,638.3L340.5,636.9L342.6,635.5L344.6,634.1L346.7,632.7L348.9,631.3L351.0,630.0L353.1,628.7L355.3,627.3L357.4,626.0L359.6,624.8L361.8,623.5L364.0,622.2L366.2,621.0L368.4,619.8L370.6,618.5L372.8,617.3L375.0,616.1L377.3,615.0L379.5,613.8L381.7,612.6L384.0,611.5L386.2,610.4L388.5,609.2L390.8,608.1L393.0,607.0L395.3,606.0L397.6,604.9L399.8,603.8L402.1,602.8L404.4,601.7L406.7,600.7L409.0,599.7L411.3,598.7L413.6,597.7L415.9,596.7L418.3,595.7L420.6,594.7L422.9,593.8L425.2,592.8L427.6,591.9L429.9,591.0L432.2,590.1L434.6,589.2L436.9,588.3L439.3,587.4L441.6,586.6L444.0,585.7L446.4,584.9L448.7,584.0L451.1,583.2L453.5,582.4L455.8,581.6L458.2,580.8L460.6,580.0L463.0,579.3L465.4,578.5L467.8,577.8L470.2,577.0L472.6,576.3L475.0,575.6L477.4,574.9L479.8,574.2L482.2,573.5L484.6,572.8L487.0,572.2L489.4,571.5L491.9,570.9L494.3,570.2L496.7,569.6L499.1,569.0L501.6,568.4L504.0,567.8L506.4,567.2L508.9,566.7L511.3,566.1L513.8,565.6L516.2,565.0L518.6,564.5L521.1,564.0L523.5,563.5L526.0,563.0L528.4,562.5L530.9,562.0L533.4,561.5L535.8,561.1L538.3,560.6L540.7,560.2L543.2,559.7L545.7,559.3L548.1,558.9L550.6,558.5L553.1,558.1L555.6,557.8L558.0,557.4L560.5,557.0L563.0,556.7L565.5,556.4L567.9,556.0L570.4,555.7L572.9,555.4L575.4,555.1L577.9,554.9L580.4,554.6L582.9,554.4L585.3,554.1L587.8,553.9L590.3,553.7L592.8,553.5L595.3,553.3L597.8,553.2L600.3,553.0L602.8,552.9L605.3,552.8L607.8,552.6L610.3,552.5L612.8,552.5L615.3,552.4L617.8,552.4L620.3,552.3L622.8,552.3L625.3,552.3L627.8,552.3L630.3,552.3L632.9,552.4L635.4,552.4L637.9,552.5L640.4,552.6L642.9,552.7L645.4,552.9L647.9,553.0L650.4,553.2L653.0,553.3L655.5,553.5L658.0,553.7L660.5,554.0L663.0,554.2L665.5,554.5L668.0,554.8L670.5,555.0L673.0,555.4L675.5,555.7L678.0,556.0L680.5,556.4L683.0,556.8L685.5,557.2L688.0,557.6L690.5,558.0L692.9,558.4L695.4,558.9L697.9,559.4L700.3,559.9L702.8,560.4L705.3,560.9L707.7,561.5L710.2,562.0L712.6,562.6L715.1,563.2L717.5,563.8L719.9,564.5L722.4,565.1L724.8,565.8L727.2,566.5L729.6,567.2L732.0,567.9L734.4,568.6L736.8,569.4L739.2,570.1L741.5,570.9L743.9,571.7L746.3,572.5L748.6,573.4L751.0,574.2L753.3,575.1L755.6,576.0L757.9,576.9L760.2,577.8L762.5,578.8L764.7,579.9L766.8,581.0L768.8,582.3L770.6,583.8L772.2,585.5L773.6,587.4L774.8,589.6L775.7,592.0L776.4,594.6L776.9,597.3L777.2,600.0L777.4,602.7L777.5,605.4L777.4,607.8L777.9,651.5" fill="none" stroke="#0000ff" stroke-width="6.3" stroke-linecap="round" stroke-linejoin="round"/>
<path d="M184.0,1110.0L184.1,1107.5L184.3,1105.0L184.4,1102.5L184.6,1100.0L184.8,1097.5L184.9,1095.0L185.1,1092.5L185.2,1090.0L185.4,1087.5L185.6,1085.0L185.8,1082.5L185.9,1080.0L186.1,1077.5L186.3,1075.0L186.5,1072.5L186.7,1070.0L186.9,1067.5L187.1,1065.0L187.2,1062.5L187.4,1060.0L187.7,1057.5L187.9,1055.0L188.1,1052.5L188.3,1050.0L188.5,1047.5L188.7,1045.0L188.9,1042.5L189.1,1040.0L189.4,1037.5L189.6,1035.0L189.8,1032.5L190.1,1030.1L190.3,1027.6L190.5,1025.1L190.8,1022.6L191.0,1020.1L191.2,1017.6L191.5,1015.1L191.7,1012.6L192.0,1010.1L192.2,1007.6L192.5,1005.1L192.8,1002.6L193.0,1000.1L193.3,997.7L193.5,995.2L193.8,992.7L194.1,990.2L194.3,987.7L194.6,985.2L194.9,982.7L195.2,980.2L195.5,977.7L195.7,975.3L196.0,972.8L196.3,970.3L196.6,967.8L196.9,965.3L197.2,962.8L197.5,960.3L197.8,957.8L198.1,955.4L198.4,952.9L198.7,950.4L199.0,947.9L199.3,945.4L199.6,942.9L199.9,940.4L200.2,937.9L200.5,935.5L200.8,933.0L201.1,930.5L201.5,928.0L201.8,925.5L202.1,923.0L202.4,920.6L202.8,918.1L203.1,915.6L203.4,913.1L203.7,910.6L204.1,908.1L204.4,905.6L204.7,903.2L205.1,900.7L205.4,898.2L205.7,895.7L206.1,893.2L206.4,890.8L206.8,888.3L207.1,885.8L207.5,883.3L207.8,880.8L208.2,878.3L208.5,875.9L208.9,873.4L209.2,870.9L209.6,868.4L209.9,865.9L210.3,863.5L210.6,861.0L211.0,858.5L211.4,856.0L211.7,853.5L212.1,851.1L212.5,848.6L212.8,846.1L213.2,843.6L213.6,841.1L214.0,838.7L214.3,836.2L214.7,833.7L215.1,831.2L215.5,828.8L215.9,826.3L216.3,823.8L216.7,821.3L217.1,818.9L217.5,816.4L217.9,813.9L218.3,811.5L218.8,809.0L219.2,806.5L219.6,804.0L220.0,801.6L220.5,799.1L220.9,796.7L221.4,794.2L221.8,791.7L222.3,789.3L222.8,786.8L223.2,784.4L223.7,781.9L224.2,779.4L224.7,777.0L225.2,774.5L225.7,772.1L226.2,769.6L226.7,767.2L227.2,764.7L227.7,762.3L228.3,759.8L228.8,757.4L229.4,755.0L229.9,752.5L230.5,750.1L231.0,747.6L231.6,745.2L232.2,742.8L232.8,740.3L233.4,737.9L234.0,735.5L234.6,733.1L235.3,730.6L235.9,728.2L236.5,725.8L237.2,723.4L237.8,721.0L238.5,718.5L239.2,716.1L239.9,713.7L240.6,711.3L241.3,708.9L242.0,706.5L242.7,704.1L243.5,701.7L244.2,699.3L245.0,696.9L245.7,694.5L246.5,692.2L247.3,689.8L248.1,687.4L248.9,685.0L249.7,682.7L250.6,680.3L251.4,677.9L252.3,675.6L253.1,673.3L254.0,670.9L254.9,668.6L255.9,666.3L256.8,663.9L257.7,661.6L258.7,659.3L259.7,657.0L260.6,654.7L261.7,652.5L262.7,650.2L263.7,647.9L264.8,645.7L265.8,643.4L266.9,641.2L268.0,639.0L269.1,636.7L270.3,634.5L271.4,632.3L272.6,630.1L273.8,628.0L275.0,625.8L276.2,623.7L277.4,621.5L278.7,619.4L279.9,617.2L281.2,615.1L282.5,613.0L283.8,610.9L285.2,608.8L286.5,606.8L287.9,604.7L289.3,602.6L290.7,600.6L292.1,598.6L293.5,596.5L294.9,594.5L296.4,592.5L297.8,590.5L299.3,588.5L300.8,586.5L302.3,584.5L303.8,582.6L305.3,580.6L306.9,578.6L308.4,576.7L310.0,574.8L311.6,572.8L313.2,570.9L314.8,569.0L316.4,567.1L318.0,565.2L319.6,563.3L321.3,561.4L322.9,559.6L324.6,557.7L326.3,555.9L328.0,554.0L329.7,552.2L331.4,550.4L333.1,548.5L334.8,546.7L336.6,544.9L338.3,543.1L340.1,541.4L341.9,539.6L343.6,537.8L345.4,536.0L347.2,534.3L349.0,532.5L350.9,530.8L352.7,529.1L354.5,527.4L356.3,525.6L358.2,523.9L360.1,522.2L361.9,520.6L363.8,518.9L365.7,517.2L367.5,515.5L369.4,513.9L371.3,512.2L373.2,510.6L375.2,508.9L377.1,507.3L379.0,505.7L380.9,504.1L382.9,502.5L384.8,500.9L386.7,499.3L388.7,497.7L390.7,496.1L392.6,494.6L394.6,493.0L396.6,491.4L398.5,489.9L400.5,488.4L402.5,486.8L404.5,485.3L406.5,483.8L408.5,482.3L410.5,480.8L412.5,479.3L414.5,477.8L416.5,476.3L418.5,474.9L420.5,473.4L422.6,471.9L424.6,470.5L426.6,469.0L428.7,467.6L430.7,466.2L432.7,464.7L434.8,463.3L436.8,461.9L438.9,460.5L441.0,459.1L443.0,457.7L445.1,456.3L447.2,454.9L449.2,453.5L451.3,452.1L453.4,450.8L455.5,449.4L457.6,448.1L459.7,446.7L461.8,445.4L463.9,444.0L466.0,442.7L468.1,441.4L470.2,440.0L472.4,438.7L474.5,437.4L476.6,436.1L478.8,434.8L480.9,433.5L483.0,432.2L485.2,430.9L487.4,429.6L489.5,428.3L491.7,427.0L493.9,425.8L496.0,424.5L498.2,423.2L500.4,422.0L502.6,420.7L504.8,419.5L507.0,418.3L509.2,417.1L511.4,415.9L513.6,414.7L515.8,413.5L518.0,412.3L520.2,411.1L522.5,409.9L524.7,408.8L526.9,407.6L529.2,406.5L531.4,405.4L533.7,404.2L535.9,403.1L538.2,402.0L540.5,400.9L542.7,399.9L545.0,398.8L547.3,397.7L549.6,396.7L551.8,395.7L554.1,394.7L556.4,393.7L558.7,392.7L561.0,391.7L563.3,390.7L565.7,389.8L568.0,388.8L570.3,387.9L572.6,387.0L575.0,386.1L577.3,385.2L579.6,384.3L582.0,383.4L584.3,382.6L586.7,381.7L589.0,380.9L591.4,380.1L593.8,379.3L596.1,378.5L598.5,377.7L600.9,376.9L603.2,376.1L605.6,375.4L608.0,374.6L610.4,373.9L612.8,373.1L615.2,372.4L617.6,371.7L620.0,371.0L622.4,370.3L624.8,369.6L627.2,369.0L629.6,368.3L632.0,367.6L634.4,367.0L636.8,366.4L639.3,365.7L641.7,365.1L644.1,364.5L646.5,363.9L649.0,363.3L651.4,362.7L653.8,362.1L656.3,361.5L658.7,361.0L661.2,360.4L663.6,359.8L666.1,359.3L668.5,358.7L670.9,358.2L673.4,357.7L675.9,357.1L678.3,356.6L680.8,356.1L683.2,355.6L685.7,355.1L688.1,354.6L690.6,354.1L693.1,353.6L695.5,353.1L698.0,352.7L700.5,352.2L702.9,351.7L705.4,351.2L707.9,350.8L710.3,350.3L712.8,349.9L715.3,349.4L717.7,349.0L720.2,348.5L722.7,348.1L725.2,347.6L727.6,347.2L730.1,346.8L732.6,346.3L735.1,345.9L737.5,345.5L740.0,345.1L742.5,344.7L745.0,344.2L747.4,343.8L749.9,343.4L752.4,343.0L754.9,342.6L757.3,342.2L759.8,341.7L762.3,341.3L764.8,340.9L767.2,340.5L769.7,340.1L772.2,339.7L774.6,339.3L777.1,338.9L779.6,338.5L782.1,338.1L784.5,337.7L787.0,337.3L789.5,336.9L791.9,336.5L794.4,336.1L796.9,335.7L799.3,335.3L801.8,334.9L804.3,334.5L806.7,334.1L809.2,333.7L811.7,333.3L814.1,332.9L816.6,332.5L819.1,332.1L821.6,331.7L824.0,331.3L826.5,330.9L829.0,330.5L831.4,330.1L833.9,329.7L836.4,329.3L838.8,328.9L841.3,328.5L843.8,328.2L846.2,327.8L848.7,327.4L851.2,327.0L853.6,326.6L856.1,326.2L858.6,325.8L861.0,325.4L863.5,325.0L866.0,324.6L868.5,324.3L870.9,323.9L873.4,323.5L875.9,323.1L878.3,322.7L880.8,322.3L883.3,321.9L885.8,321.5L888.2,321.1L890.7,320.8L893.2,320.4L895.6,320.0L898.1,319.6L900.6,319.2L903.1,318.8L905.5,318.4L908.0,318.1L910.5,317.7L913.0,317.3L915.5,316.9L917.9,316.5L920.4,316.1L922.9,315.7L925.4,315.4L927.9,315.0L930.3,314.6L932.8,314.2L935.3,313.8L937.8,313.4L940.3,313.0L942.8,312.6L945.3,312.3L947.7,311.9L950.2,311.5L952.7,311.1L955.2,310.7L957.7,310.3L960.2,309.9L962.7,309.6L965.2,309.2L967.7,308.8L970.2,308.4L972.7,308.0L975.2,307.6L977.7,307.2L980.2,306.8L982.7,306.4L985.2,306.1L987.7,305.7L990.2,305.3L992.7,304.9L995.2,304.6L997.7,304.3L1000.2,304.0L1002.7,303.7L1005.1,303.5L1007.6,303.2L1010.1,303.1L1012.6,302.9L1015.1,302.8L1017.5,302.8L1020.0,302.8L1022.5,302.8L1024.9,302.9L1027.3,303.1L1029.8,303.3L1032.2,303.5L1034.6,303.9L1037.0,304.3L1039.4,304.8L1041.7,305.5L1043.9,306.5L1045.9,307.7L1047.7,309.3L1049.3,311.4L1050.5,314.0" fill="none" stroke="#ff0000" stroke-width="6.3" stroke-linecap="round" stroke-linejoin="round"/>
<path d="M184.0,1110.0L184.3,1107.5L184.6,1105.0L184.9,1102.5L185.2,1100.0L185.5,1097.5L185.8,1095.0L186.1,1092.5L186.4,1090.0L186.7,1087.5L187.0,1085.0L187.3,1082.5L187.6,1080.0L187.9,1077.5L188.3,1075.0L188.6,1072.5L188.9,1070.0L189.2,1067.5L189.5,1065.0L189.9,1062.5L190.2,1060.0L190.5,1057.5L190.8,1055.0L191.2,1052.5L191.5,1050.0L191.8,1047.5L192.2,1045.1L192.5,1042.6L192.8,1040.1L193.2,1037.6L193.5,1035.1L193.9,1032.6L194.2,1030.1L194.6,1027.7L195.0,1025.2L195.3,1022.7L195.7,1020.2L196.0,1017.7L196.4,1015.3L196.8,1012.8L197.2,1010.3L197.5,1007.8L197.9,1005.4L198.3,1002.9L198.7,1000.4L199.1,997.9L199.5,995.5L199.9,993.0L200.3,990.5L200.7,988.1L201.1,985.6L201.5,983.1L201.9,980.7L202.4,978.2L202.8,975.7L203.2,973.3L203.6,970.8L204.1,968.3L204.5,965.9L205.0,963.4L205.4,961.0L205.9,958.5L206.3,956.0L206.8,953.6L207.3,951.1L207.7,948.7L208.2,946.2L208.7,943.8L209.2,941.3L209.7,938.9L210.2,936.4L210.7,934.0L211.2,931.5L211.7,929.1L212.2,926.6L212.7,924.2L213.2,921.7L213.8,919.3L214.3,916.8L214.8,914.4L215.4,911.9L215.9,909.5L216.5,907.1L217.1,904.6L217.6,902.2L218.2,899.7L218.8,897.3L219.4,894.9L220.0,892.4L220.6,890.0L221.2,887.5L221.8,885.1L222.4,882.7L223.0,880.2L223.6,877.8L224.3,875.4L224.9,872.9L225.6,870.5L226.2,868.1L226.9,865.7L227.6,863.2L228.2,860.8L228.9,858.4L229.6,856.0L230.3,853.5L231.0,851.1L231.7,848.7L232.4,846.3L233.1,843.8L233.9,841.4L234.6,839.0L235.3,836.6L236.1,834.2L236.9,831.7L237.6,829.3L238.4,826.9L239.2,824.5L240.0,822.1L240.8,819.7L241.6,817.3L242.4,814.9L243.2,812.5L244.1,810.1L244.9,807.7L245.8,805.3L246.7,803.0L247.6,800.6L248.5,798.2L249.4,795.9L250.3,793.5L251.3,791.2L252.3,788.9L253.2,786.5L254.2,784.2L255.3,781.9L256.3,779.6L257.3,777.4L258.4,775.1L259.5,772.8L260.6,770.6L261.7,768.4L262.9,766.1L264.1,763.9L265.2,761.8L266.5,759.6L267.7,757.4L268.9,755.3L270.2,753.1L271.5,751.0L272.8,748.9L274.2,746.9L275.6,744.8L277.0,742.8L278.4,740.7L279.8,738.7L281.3,736.7L282.8,734.8L284.4,732.8L285.9,730.9L287.5,729.0L289.1,727.1L290.7,725.2L292.4,723.4L294.1,721.5L295.8,719.7L297.5,717.9L299.2,716.2L301.0,714.4L302.8,712.7L304.6,710.9L306.4,709.2L308.3,707.5L310.2,705.9L312.1,704.2L314.0,702.6L315.9,701.0L317.8,699.4L319.8,697.8L321.8,696.3L323.7,694.7L325.7,693.2L327.8,691.7L329.8,690.2L331.8,688.7L333.9,687.3L336.0,685.8L338.1,684.4L340.2,683.0L342.3,681.6L344.4,680.2L346.5,678.8L348.7,677.5L350.8,676.2L353.0,674.9L355.1,673.6L357.3,672.3L359.5,671.0L361.7,669.8L363.9,668.5L366.1,667.3L368.3,666.1L370.5,664.9L372.7,663.8L375.0,662.6L377.2,661.4L379.4,660.3L381.7,659.2L383.9,658.1L386.2,657.0L388.4,655.9L390.7,654.8L393.0,653.8L395.2,652.7L397.5,651.7L399.8,650.6L402.1,649.6L404.4,648.6L406.7,647.6L408.9,646.6L411.2,645.6L413.5,644.7L415.9,643.7L418.2,642.7L420.5,641.8L422.8,640.8L425.1,639.9L427.4,638.9L429.8,638.0L432.1,637.1L434.4,636.1L436.7,635.2L439.1,634.3L441.4,633.4L443.7,632.5L446.1,631.6L448.4,630.7L450.8,629.8L453.1,628.9L455.5,628.0L457.8,627.1L460.2,626.2L462.5,625.3L464.9,624.4L467.2,623.5L469.6,622.6L471.9,621.8L474.3,620.9L476.6,620.0L479.0,619.1L481.3,618.2L483.7,617.3L486.1,616.5L488.4,615.6L490.8,614.7L493.2,613.9L495.5,613.0L497.9,612.1L500.3,611.3L502.6,610.4L505.0,609.6L507.4,608.8L509.8,607.9L512.1,607.1L514.5,606.3L516.9,605.5L519.3,604.6L521.7,603.8L524.1,603.0L526.4,602.2L528.8,601.5L531.2,600.7L533.6,599.9L536.0,599.1L538.4,598.4L540.8,597.6L543.2,596.9L545.6,596.2L548.0,595.5L550.4,594.7L552.8,594.0L555.2,593.3L557.6,592.7L560.1,592.0L562.5,591.3L564.9,590.7L567.3,590.0L569.7,589.4L572.2,588.8L574.6,588.1L577.0,587.5L579.4,586.9L581.9,586.4L584.3,585.8L586.7,585.2L589.2,584.7L591.6,584.1L594.1,583.6L596.5,583.1L598.9,582.5L601.4,582.0L603.8,581.6L606.3,581.1L608.7,580.6L611.2,580.1L613.6,579.7L616.1,579.2L618.6,578.8L621.0,578.4L623.5,577.9L625.9,577.5L628.4,577.1L630.9,576.8L633.3,576.4L635.8,576.0L638.3,575.7L640.8,575.3L643.2,575.0L645.7,574.6L648.2,574.3L650.7,574.0L653.1,573.7L655.6,573.4L658.1,573.1L660.6,572.9L663.1,572.6L665.6,572.3L668.0,572.1L670.5,571.9L673.0,571.6L675.5,571.4L678.0,571.2L680.5,571.0L683.0,570.8L685.5,570.6L688.0,570.5L690.5,570.3L693.0,570.1L695.5,570.0L698.0,569.9L700.5,569.7L703.0,569.6L705.5,569.5L708.0,569.4L710.6,569.3L713.1,569.2L715.6,569.1L718.1,569.1L720.6,569.0L723.1,569.0L725.6,568.9L728.2,568.9L730.7,568.9L733.2,568.9L735.7,568.9L738.2,568.9L740.8,568.9L743.3,568.9L745.8,568.9L748.3,568.9L750.8,569.0L753.4,569.0L755.9,569.1L758.4,569.2L760.9,569.3L763.5,569.3L766.0,569.4L768.5,569.5L771.0,569.7L773.6,569.8L776.1,569.9L778.6,570.1L781.1,570.2L783.6,570.4L786.2,570.5L788.7,570.7L791.2,570.9L793.7,571.1L796.2,571.2L798.7,571.4L801.3,571.7L803.8,571.9L806.3,572.1L808.8,572.3L811.3,572.6L813.8,572.8L816.3,573.1L818.8,573.4L821.3,573.6L823.8,573.9L826.3,574.2L828.8,574.5L831.3,574.8L833.8,575.1L836.3,575.5L838.8,575.8L841.3,576.1L843.8,576.5L846.3,576.8L848.8,577.2L851.2,577.6L853.7,578.0L856.2,578.3L858.7,578.7L861.1,579.1L863.6,579.5L866.1,580.0L868.5,580.4L871.0,580.8L873.4,581.3L875.9,581.8L878.3,582.3L880.7,582.8L883.1,583.4L885.5,584.0L887.9,584.6L890.3,585.3L892.6,586.0L894.9,586.7L897.2,587.5L899.5,588.4L901.7,589.3L903.9,590.2L906.1,591.2L908.3,592.3L910.4,593.4L912.5,594.6L914.6,595.9L916.6,597.2L918.6,598.6L920.6,600.1L922.5,601.7L924.4,603.4L926.2,605.1L928.0,606.9L929.8,608.8L931.5,610.9L933.1,613.0" fill="none" stroke="#008000" stroke-width="6.3" stroke-linecap="round" stroke-linejoin="round"/>
<path d="M760.9,569.3L763.5,569.5L766.0,569.8L768.5,570.0L771.0,570.3L773.6,570.5L776.1,570.8L778.6,571.0L781.1,571.3L783.6,571.6L786.2,571.9L788.7,572.2L791.2,572.5L793.7,572.8L796.2,573.2L798.7,573.5L801.3,573.9L803.8,574.2L806.3,574.6L808.8,574.9L811.3,575.3L813.8,575.7L816.3,576.1L818.8,576.5L821.3,576.8L823.8,577.1L826.3,577.4L828.8,577.7L831.3,578.0L833.8,578.3L836.3,578.7L838.8,579.0L841.3,579.3L843.8,579.7L846.3,580.0L848.8,580.4L851.2,580.8L853.7,581.2L856.2,581.5L858.7,581.9L861.1,582.3L863.6,582.7L866.1,583.2L868.5,583.6L871.0,584.0L873.4,584.5L875.9,585.0L878.3,585.5L880.7,586.0L883.1,586.6L885.5,587.2L887.9,587.8L890.3,588.5L892.6,589.2L894.9,589.9L897.2,590.7L899.5,591.6L901.7,592.5L903.9,593.4L914.5,594.5L917.4,606.5" fill="none" stroke="#008000" stroke-width="5.5" stroke-linecap="round" stroke-linejoin="round"/>
<circle cx="291.3" cy="433.6" r="5.9" fill="#008000"/>
<circle cx="309.4" cy="420.5" r="5.9" fill="#008000"/>
<circle cx="328" cy="411.8" r="5.9" fill="#008000"/>
<circle cx="335.5" cy="409.3" r="5.9" fill="#008000"/>
<circle cx="356.6" cy="405" r="5.9" fill="#008000"/>
<circle cx="375.9" cy="408.1" r="5.9" fill="#008000"/>
<circle cx="224.1" cy="593.8" r="5.9" fill="#0000ff"/>
<circle cx="228.5" cy="565.8" r="5.9" fill="#0000ff"/>
<circle cx="234.7" cy="538.6" r="5.9" fill="#0000ff"/>
<circle cx="242.3" cy="512.5" r="5.9" fill="#0000ff"/>
<circle cx="251" cy="490.2" r="5.9" fill="#0000ff"/>
<circle cx="260.8" cy="469" r="5.9" fill="#0000ff"/>
<circle cx="274" cy="447.9" r="5.9" fill="#0000ff"/>
<circle cx="288.2" cy="428.2" r="5.9" fill="#0000ff"/>
<circle cx="303.8" cy="412.4" r="5.9" fill="#0000ff"/>
<circle cx="320.7" cy="400.5" r="5.9" fill="#0000ff"/>
<circle cx="338.9" cy="389.5" r="5.9" fill="#0000ff"/>
<circle cx="359.2" cy="387" r="5.9" fill="#0000ff"/>
<circle cx="186.6" cy="1105.2" r="5.9" fill="#ff0000"/>
<circle cx="187.6" cy="1075.9" r="5.9" fill="#ff0000"/>
<circle cx="189.1" cy="1047.6" r="5.9" fill="#ff0000"/>
<circle cx="188.1" cy="1019" r="5.9" fill="#ff0000"/>
<circle cx="188.1" cy="990.2" r="5.9" fill="#ff0000"/>
<circle cx="189.6" cy="962.4" r="5.9" fill="#ff0000"/>
<circle cx="191.1" cy="933.6" r="5.9" fill="#ff0000"/>
<circle cx="193.1" cy="905.4" r="5.9" fill="#ff0000"/>
<circle cx="195.2" cy="877.1" r="5.9" fill="#ff0000"/>
<circle cx="196.4" cy="848.7" r="5.9" fill="#ff0000"/>
<circle cx="198.7" cy="820.1" r="5.9" fill="#ff0000"/>
<circle cx="200.5" cy="791.5" r="5.9" fill="#ff0000"/>
<circle cx="203.3" cy="762.9" r="5.9" fill="#ff0000"/>
<circle cx="205.4" cy="734.7" r="5.9" fill="#ff0000"/>
<circle cx="208.2" cy="706.1" r="5.9" fill="#ff0000"/>
<circle cx="211.3" cy="678.1" r="5.9" fill="#ff0000"/>
<circle cx="215.1" cy="650.1" r="5.9" fill="#ff0000"/>
<circle cx="218.8" cy="622.2" r="5.9" fill="#ff0000"/>
<circle cx="223.8" cy="594.2" r="5.9" fill="#ff0000"/>
<circle cx="230.6" cy="568.1" r="5.9" fill="#ff0000"/>
<circle cx="237.4" cy="546.2" r="5.9" fill="#ff0000"/>
<circle cx="245.6" cy="523.9" r="5.9" fill="#ff0000"/>
<circle cx="255.4" cy="503.2" r="5.9" fill="#ff0000"/>
<circle cx="270.2" cy="483.5" r="5.9" fill="#ff0000"/>
<circle cx="285.4" cy="469.6" r="5.9" fill="#ff0000"/>
<circle cx="306.3" cy="460.3" r="5.9" fill="#ff0000"/>
<circle cx="316.8" cy="457.2" r="5.9" fill="#ff0000"/>
<circle cx="335.9" cy="455.1" r="5.9" fill="#ff0000"/>
<circle cx="353.3" cy="462.2" r="5.9" fill="#ff0000"/>
<text x="150" y="1121.2" font-size="38" text-anchor="end">0</text>
<text x="150" y="1038.2" font-size="38" text-anchor="end">1</text>
<text x="150" y="955.2" font-size="38" text-anchor="end">2</text>
<text x="150" y="872.2" font-size="38" text-anchor="end">3</text>
<text x="150" y="789.2" font-size="38" text-anchor="end">4</text>
<text x="150" y="706.2" font-size="38" text-anchor="end">5</text>
<text x="150" y="623.2" font-size="38" text-anchor="end">6</text>
<text x="150" y="540.2" font-size="38" text-anchor="end">7</text>
<text x="150" y="457.2" font-size="38" text-anchor="end">8</text>
<text x="150" y="374.2" font-size="38" text-anchor="end">9</text>
<text x="150" y="291.2" font-size="38" text-anchor="end">10</text>
<text x="150" y="208.2" font-size="38" text-anchor="end">11</text>
<text x="150" y="125.2" font-size="38" text-anchor="end">12</text>
<text x="184.0" y="1172" font-size="38" text-anchor="middle">0</text>
<text x="362.6" y="1172" font-size="38" text-anchor="middle">20</text>
<text x="541.2" y="1172" font-size="38" text-anchor="middle">40</text>
<text x="719.8" y="1172" font-size="38" text-anchor="middle">60</text>
<text x="898.5" y="1172" font-size="38" text-anchor="middle">80</text>
<text x="1077.1" y="1172" font-size="38" text-anchor="middle">100</text>
<text x="1255.7" y="1172" font-size="38" text-anchor="middle">120</text>
<text x="1434.3" y="1172" font-size="38" text-anchor="middle">140</text>
<text transform="translate(70.2,699.3) rotate(-90)" font-size="55">σ [MPa]</text>
<text x="792.9" y="1253.7" font-size="51" style="font-family:'Liberation Serif','Times New Roman',serif">ε</text>
<text transform="translate(831.4,1253.5) scale(1,1.085)" font-size="54.8" style="font-family:'Liberation Serif','Times New Roman',serif">[%]</text>
<text x="1462" y="62.3" font-size="47.4">EVA</text>
<text x="1462" y="120.6" font-size="47.4">15% BC low</text>
<text x="1462" y="177.9" font-size="47.4">20% BC low</text>
<text x="1462" y="237.1" font-size="47.4">40% BC low</text>
<text x="1462" y="295.5" font-size="47.4">15% BC med</text>
<text x="1462" y="352.0" font-size="47.4">20% BC med</text>
<text x="1462" y="411.7" font-size="47.4">40% BC low</text>
<text x="1462" y="468.8" font-size="47.4">15% BC high</text>
<text x="1462" y="527.2" font-size="47.4">20% BC high</text>
<text x="1462" y="585.5" font-size="47.4">40% BC high</text>
<path d="M1342,45.8H1450" stroke="#000000" stroke-width="2.2" fill="none"/>
<path d="M1344,104.1H1450" stroke="#0000ff" stroke-width="6" stroke-linecap="round" fill="none"/>
<path d="M1342,161.4H1448" stroke="#1818b4" stroke-width="8.6" stroke-linecap="round" fill="none"/><path d="M1342,161.4H1448" stroke="#fff" stroke-width="3.4" stroke-linecap="butt" fill="none"/>
<circle cx="1344.4" cy="220.6" r="6" fill="#0000ff"/><circle cx="1372.8" cy="220.6" r="6" fill="#0000ff"/><circle cx="1401" cy="220.6" r="6" fill="#0000ff"/><circle cx="1429.7" cy="220.6" r="6" fill="#0000ff"/>
<path d="M1344,279.0H1450" stroke="#ff0000" stroke-width="6" stroke-linecap="round" fill="none"/>
<path d="M1342,335.5H1448" stroke="#c81a22" stroke-width="8.6" stroke-linecap="round" fill="none"/><path d="M1342,335.5H1448" stroke="#fff" stroke-width="3.4" stroke-linecap="butt" fill="none"/>
<circle cx="1344.4" cy="395.2" r="6" fill="#ff0000"/><circle cx="1372.8" cy="395.2" r="6" fill="#ff0000"/><circle cx="1401" cy="395.2" r="6" fill="#ff0000"/><circle cx="1429.7" cy="395.2" r="6" fill="#ff0000"/>
<path d="M1344,452.3H1450" stroke="#008000" stroke-width="6" stroke-linecap="round" fill="none"/>
<path d="M1344,510.7H1375M1418,510.7H1450" stroke="#008000" stroke-width="6" stroke-linecap="round" fill="none"/>
<circle cx="1344.4" cy="569.0" r="6" fill="#008000"/><circle cx="1372.8" cy="569.0" r="6" fill="#008000"/><circle cx="1401" cy="569.0" r="6" fill="#008000"/><circle cx="1429.7" cy="569.0" r="6" fill="#008000"/>
</svg></body></html>
